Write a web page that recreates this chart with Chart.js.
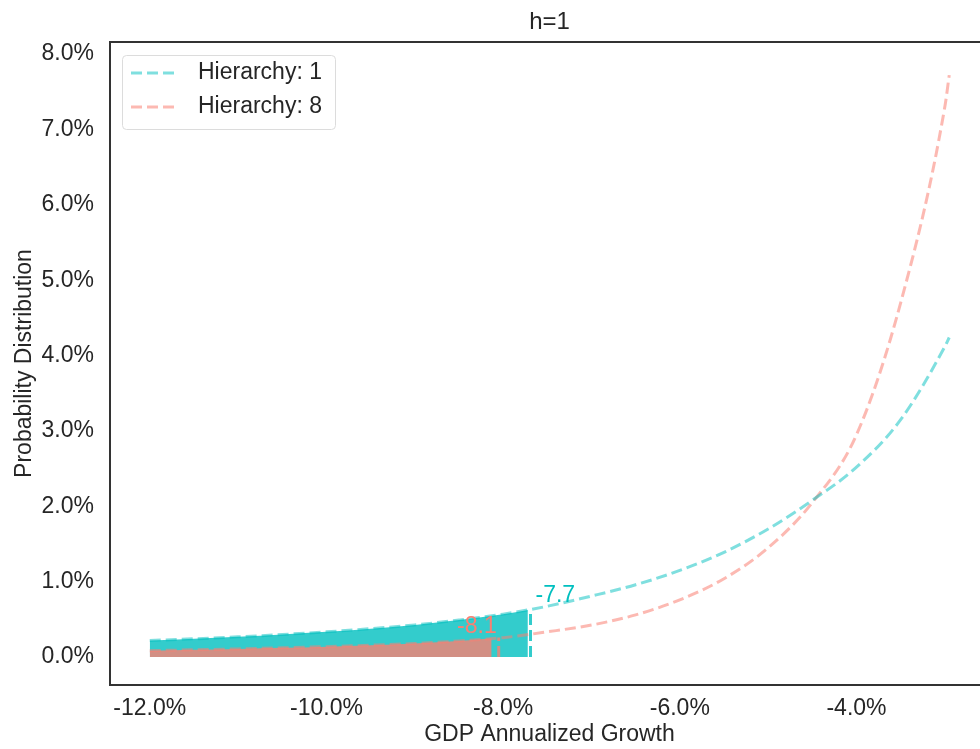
<!DOCTYPE html>
<html>
<head>
<meta charset="utf-8">
<title>h=1</title>
<script src="https://cdn.jsdelivr.net/npm/chart.js@4.4.1/dist/chart.umd.min.js"></script>
<style>
    html, body { margin: 0; padding: 0; background: #fff; overflow: hidden; }
    #wrap { width: 1000px; height: 749px; }
</style>
</head>
<body>
<div id="wrap"><canvas id="tailChart" width="1000" height="749"></canvas></div>
<script>
// GDP growth grid (%)
const xGrid = [-12, -11.5, -11, -10.5, -10, -9.5, -9, -8.5, -8, -7.5, -7, -6.5, -6, -5.5, -5, -4.5, -4, -3.5, -3, -2.95];

// Probability density (%) per hierarchy
const hier1 = [0.22, 0.243, 0.269, 0.300, 0.335, 0.377, 0.427, 0.492, 0.57, 0.675, 0.81, 0.96, 1.15, 1.39, 1.70, 2.08, 2.52, 3.15, 4.12, 4.24];
const hier8 = [0.086, 0.097, 0.109, 0.123, 0.139, 0.158, 0.181, 0.214, 0.258, 0.335, 0.425, 0.56, 0.76, 1.04, 1.45, 2.05, 2.95, 4.7, 7.3, 7.72];

const seriesNames = ['Hierarchy: 1', 'Hierarchy: 8'];

// VaR cut-offs (dashed markers), where the shaded tail stops, and density there
const varCut = [-7.69, -8.05];
const varDensity = [0.63, 0.26];
const tailEnd = [-7.72, -8.13];
const tailEndDensity = [0.625, 0.25];
const varLabels = ['-7.7', '-8.1'];

const xTicks = [-12, -10, -8, -6, -4];
const yTicks = [0, 1, 2, 3, 4, 5, 6, 7, 8];

const CYAN = '0, 191, 191';
const SALMON = '250, 128, 114';
const TEXT = '#262626';
const FONT = '"Liberation Sans", Arial, sans-serif';

Chart.defaults.font.family = FONT;
Chart.defaults.color = TEXT;

function curve(values) {
    return xGrid.map((x, i) => ({ x: x, y: values[i] }));
}

// Left tail up to where the shading stops
function tail(values, end, endY) {
    const pts = curve(values).filter(p => p.x < end);
    pts.push({ x: end, y: endY });
    return pts;
}

function cutLine(cut, cutY) {
    return [{ x: cut, y: 0 }, { x: cut, y: cutY }];
}

// Frame, legend box and VaR notes
const framePlugin = {
    id: 'framePlugin',
    afterDatasetsDraw(chart) {
        const ctx = chart.ctx;
        const xs = chart.scales.x;
        const ys = chart.scales.y;
        const notes = [
            { color: 'rgb(' + CYAN + ')', align: 'left', dx: 5, y: 0.82 },
            { color: 'rgb(' + SALMON + ')', align: 'right', dx: -2, y: 0.41 }
        ];
        ctx.save();
        ctx.font = '23px ' + FONT;
        ctx.textBaseline = 'middle';
        notes.forEach((n, i) => {
            ctx.fillStyle = n.color;
            ctx.textAlign = n.align;
            ctx.fillText(varLabels[i], xs.getPixelForValue(varCut[i]) + n.dx, ys.getPixelForValue(n.y));
        });
        ctx.restore();
    },
    afterDraw(chart) {
        const ctx = chart.ctx;
        const a = chart.chartArea;
        ctx.save();

        // spines
        ctx.strokeStyle = '#333333';
        ctx.lineWidth = 2;
        ctx.strokeRect(a.left, a.top, a.right - a.left, a.bottom - a.top);

        // legend
        const lx = a.left + 12, ly = a.top + 13;
        ctx.beginPath();
        ctx.roundRect(lx + 0.5, ly + 0.5, 213, 74, 4);
        ctx.fillStyle = 'rgba(255,255,255,0.8)';
        ctx.fill();
        ctx.strokeStyle = '#dcdcdc';
        ctx.lineWidth = 1;
        ctx.stroke();

        const items = chart.data.datasets.filter(d => d.inLegend);
        ctx.font = '23px ' + FONT;
        ctx.textBaseline = 'middle';
        ctx.textAlign = 'left';
        items.forEach((d, i) => {
            const y = ly + 18 + i * 34;
            ctx.beginPath();
            ctx.setLineDash(d.borderDash);
            ctx.strokeStyle = d.borderColor;
            ctx.lineWidth = d.borderWidth;
            ctx.moveTo(lx + 9, y);
            ctx.lineTo(lx + 56, y);
            ctx.stroke();
            ctx.setLineDash([]);
            ctx.fillStyle = TEXT;
            ctx.fillText(d.label, lx + 76, y);
        });
        ctx.restore();
    }
};

const ctx = document.getElementById('tailChart').getContext('2d');

new Chart(ctx, {
    type: 'line',
    data: {
        datasets: [
            {
                label: seriesNames[0],
                inLegend: true,
                data: curve(hier1),
                borderColor: 'rgba(' + CYAN + ', 0.5)',
                backgroundColor: 'rgba(' + CYAN + ', 0.5)',
                borderWidth: 3,
                borderDash: [11, 5],
                pointRadius: 0,
                cubicInterpolationMode: 'monotone',
                fill: false,
                order: 1
            },
            {
                label: seriesNames[1],
                inLegend: true,
                data: curve(hier8),
                borderColor: 'rgba(' + SALMON + ', 0.55)',
                backgroundColor: 'rgba(' + SALMON + ', 0.55)',
                borderWidth: 3,
                borderDash: [11, 5],
                pointRadius: 0,
                cubicInterpolationMode: 'monotone',
                fill: false,
                order: 2
            },
            {
                label: 'cut 1',
                data: cutLine(varCut[0], varDensity[0]),
                borderColor: 'rgba(' + CYAN + ', 0.8)',
                borderWidth: 3,
                borderDash: [11, 5],
                pointRadius: 0,
                fill: false,
                order: 3
            },
            {
                label: 'cut 8',
                data: cutLine(varCut[1], varDensity[1]),
                borderColor: 'rgba(' + SALMON + ', 0.8)',
                borderWidth: 3,
                borderDash: [11, 5],
                pointRadius: 0,
                fill: false,
                order: 4
            },
            {
                label: 'tail 8',
                data: tail(hier8, tailEnd[1], tailEndDensity[1]),
                borderWidth: 0,
                backgroundColor: 'rgba(' + SALMON + ', 0.8)',
                pointRadius: 0,
                cubicInterpolationMode: 'monotone',
                fill: 'origin',
                order: 5
            },
            {
                label: 'tail 1',
                data: tail(hier1, tailEnd[0], tailEndDensity[0]),
                borderWidth: 0,
                backgroundColor: 'rgba(' + CYAN + ', 0.8)',
                pointRadius: 0,
                cubicInterpolationMode: 'monotone',
                fill: 'origin',
                order: 6
            }
        ]
    },
    options: {
        responsive: false,
        animation: false,
        events: [],
        layout: {
            padding: { left: 0, right: 11, top: 0, bottom: 0 }
        },
        plugins: {
            legend: { display: false },
            tooltip: { enabled: false },
            title: {
                display: true,
                text: 'h=1',
                fullSize: false,
                color: TEXT,
                font: { size: 24, weight: 'normal' },
                padding: { top: 8, bottom: 5.2 }
            }
        },
        scales: {
            x: {
                type: 'linear',
                min: -12.45,
                max: -2.5,
                grid: { display: false, drawTicks: false },
                border: { display: false },
                afterBuildTicks: scale => {
                    scale.ticks = xTicks.map(v => ({ value: v }));
                },
                afterFit: scale => {
                    scale.height = 64;
                },
                ticks: {
                    padding: 10,
                    maxRotation: 0,
                    color: TEXT,
                    font: { size: 23 },
                    callback: v => v.toFixed(1) + '%'
                },
                title: {
                    display: true,
                    text: 'GDP Annualized Growth',
                    color: TEXT,
                    font: { size: 23 },
                    padding: { top: 0, bottom: 1 }
                }
            },
            y: {
                type: 'linear',
                min: -0.37,
                max: 8.16,
                grid: { display: false, drawTicks: false },
                border: { display: false },
                afterBuildTicks: scale => {
                    scale.ticks = yTicks.map(v => ({ value: v }));
                },
                afterFit: scale => {
                    scale.width = 110;
                },
                ticks: {
                    padding: 16,
                    color: TEXT,
                    font: { size: 23 },
                    callback: v => v.toFixed(1) + '%'
                },
                title: {
                    display: true,
                    text: 'Probability Distribution',
                    color: TEXT,
                    font: { size: 23 },
                    padding: { top: 11, bottom: 0 }
                }
            }
        }
    },
    plugins: [framePlugin]
});
</script>
</body>
</html>
